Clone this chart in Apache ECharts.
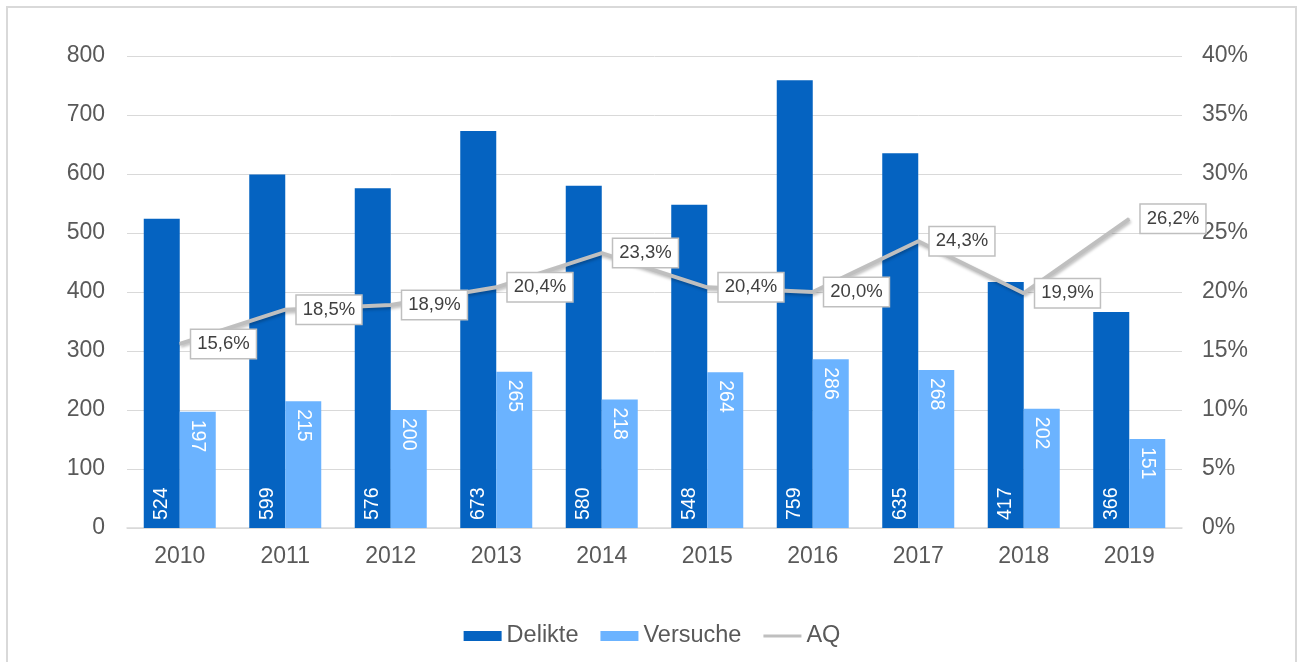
<!DOCTYPE html>
<html><head><meta charset="utf-8">
<script src="https://cdn.jsdelivr.net/npm/echarts@6/dist/echarts.min.js"></script>
<style>
html,body{margin:0;padding:0;background:#fff;}
#frame{position:absolute;left:6px;top:6px;width:1291px;height:660px;border:2px solid #d9d9d9;box-sizing:border-box;}
#c{position:absolute;left:0;top:0;width:1304px;height:662px;}
</style></head>
<body>
<div id="frame"></div>
<div id="c"></div>
<script>
const years = ['2010','2011','2012','2013','2014','2015','2016','2017','2018','2019'];
const delikte = [524,599,576,673,580,548,759,635,417,366];
const versuche = [197,215,200,265,218,264,286,268,202,151];
const aq = [15.6,18.5,18.9,20.4,23.3,20.4,20.0,24.3,19.9,26.2];

const chart = echarts.init(document.getElementById('c'));
const font = 'Liberation Sans, Arial, sans-serif';
chart.setOption({
  textStyle:{fontFamily:font},
  animation:false,
  grid:{left:127,right:122,top:56,bottom:134},
  legend:{
    bottom:9,left:'center',itemWidth:38,itemHeight:10,itemGap:22,
    textStyle:{fontSize:23.5,color:'#595959',fontFamily:font},
    data:[{name:'Delikte',icon:'rect'},{name:'Versuche',icon:'rect'},{name:'AQ',icon:'path://M0,4 L40,4 L40,7 L0,7 Z'}]
  },
  xAxis:{
    type:'category',data:years,
    axisLine:{lineStyle:{color:'#d9d9d9',width:1.5}},
    axisTick:{show:false},
    axisLabel:{fontSize:23,color:'#595959',margin:17,fontFamily:font}
  },
  yAxis:[{
    type:'value',min:0,max:800,interval:100,
    axisLabel:{fontSize:23,color:'#595959',margin:22,fontFamily:font},
    splitLine:{lineStyle:{color:'#d9d9d9',width:1}},
    axisLine:{show:false},axisTick:{show:false}
  },{
    type:'value',min:0,max:40,interval:5,
    axisLabel:{fontSize:23,color:'#595959',margin:20,formatter:'{value}%',fontFamily:font},
    splitLine:{show:false},axisLine:{show:false},axisTick:{show:false}
  }],
  series:[{
    name:'Delikte',type:'bar',data:delikte,barWidth:36,barGap:'0%',
    itemStyle:{color:'#0563C1'},
    label:{show:true,position:'insideBottom',rotate:90,align:'left',verticalAlign:'middle',distance:8,
      color:'#fff',fontSize:19.5,fontFamily:font}
  },{
    name:'Versuche',type:'bar',data:versuche,barWidth:36,
    itemStyle:{color:'#6BB3FF'},
    label:{show:true,position:'insideTop',rotate:-90,align:'left',verticalAlign:'middle',distance:8,
      color:'#fff',fontSize:19.5,fontFamily:font}
  },{
    name:'AQ',type:'line',yAxisIndex:1,data:aq,symbol:'circle',symbolSize:1,showSymbol:true,
    lineStyle:{color:'#bfbfbf',width:4,shadowColor:'rgba(0,0,0,0.25)',shadowBlur:3,shadowOffsetX:1,shadowOffsetY:2},
    itemStyle:{color:'#bfbfbf'},
    label:{show:true,position:'right',distance:11,
      formatter:p=>p.value.toFixed(1).replace('.',',')+'%',
      backgroundColor:'#fff',borderColor:'#bfbfbf',borderWidth:1.5,padding:[5,6,4,6],
      color:'#404040',fontSize:18.5,fontFamily:font},
    labelLayout:{hideOverlap:false},
    z:5
  }]
});
</script>
</body></html>
